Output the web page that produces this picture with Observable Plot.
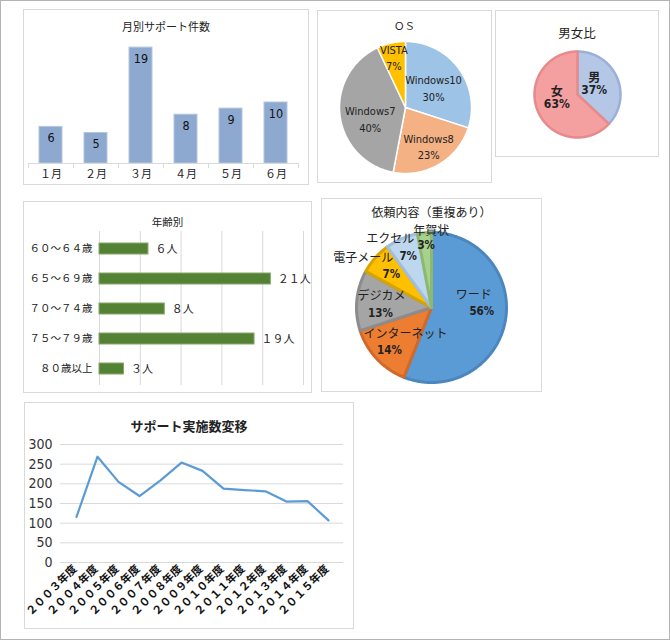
<!DOCTYPE html>
<html><head><meta charset="utf-8">
<script src="https://cdn.jsdelivr.net/npm/d3@7"></script>
<script src="https://cdn.jsdelivr.net/npm/@observablehq/plot@0.6"></script>
<style>
body{margin:0;background:#fff;}
#root{position:relative;width:670px;height:640px;box-sizing:border-box;border:1px solid #b3b3b3;overflow:hidden;background:#fff;font-family:"Noto Sans CJK JP",sans-serif;}
.panel{position:absolute;outline:1px solid #d9d9d9;outline-offset:-1px;background:#fff;}
.panel svg{position:absolute;left:0;top:0;}
.ttl{position:absolute;left:0;right:0;text-align:center;color:#222;white-space:nowrap;}
</style></head>
<body><div id="root"></div>
<script>
// ---- data ----
const months = ["１月","２月","３月","４月","５月","６月"];
const monthCounts = [6, 5, 19, 8, 9, 10];

const osNames = ["Windows10","Windows8","Windows7","VISTA"];
const osShares = [30, 23, 40, 7];

const genderNames = ["男","女"];
const genderShares = [37, 63];

const ageGroups = ["６０～６４歳","６５～６９歳","７０～７４歳","７５～７９歳","８０歳以上"];
const ageCounts = [6, 21, 8, 19, 3];

const requestNames = ["ワード","インターネット","デジカメ","電子メール","エクセル","年賀状"];
const requestShares = [56, 14, 13, 7, 7, 3];

const fiscalYears = ["２００３年度","２００４年度","２００５年度","２００６年度","２００７年度","２００８年度","２００９年度","２０１０年度","２０１１年度","２０１２年度","２０１３年度","２０１４年度","２０１５年度"];
const supportTotals = [116, 269, 205, 169, 209, 254, 233, 188, 184, 181, 155, 156, 107];

// ---- helpers ----
const JP = '"Noto Sans CJK JP", sans-serif';
const NARROW = '"Liberation Sans Narrow", "DejaVu Sans Condensed", "Noto Sans CJK JP", sans-serif';
const toFull = v => String(v).replace(/[0-9]/g, c => String.fromCharCode(c.charCodeAt(0) + 0xFEE0));
const root = document.getElementById("root");

function panel(x, y, w, h) {
  const d = document.createElement("div");
  d.className = "panel";
  Object.assign(d.style, {left: (x - 1) + "px", top: (y - 1) + "px", width: w + "px", height: h + "px"});
  root.appendChild(d);
  return d;
}
function title(p, text, cy, size, weight = "normal") {
  const t = document.createElement("div");
  t.className = "ttl";
  t.textContent = text;
  const lh = Math.round(size * 1.4);
  Object.assign(t.style, {top: (cy - lh / 2) + "px", fontSize: size + "px", lineHeight: lh + "px", fontWeight: weight});
  p.appendChild(t);
}

function pieChart(o) {
  const total = d3.sum(o.values);
  let acc = 0;
  const slices = o.names.map((name, i) => {
    const a0 = acc / total * 2 * Math.PI; acc += o.values[i];
    const a1 = acc / total * 2 * Math.PI;
    return {name, value: o.values[i], i, a0, a1, mid: (a0 + a1) / 2};
  });
  const outline = s => {
    const pts = [[0, 0]];
    const n = Math.max(4, Math.ceil((s.a1 - s.a0) / 0.01));
    for (let k = 0; k <= n; k++) { const a = s.a0 + (s.a1 - s.a0) * k / n; pts.push([Math.sin(a), Math.cos(a)]); }
    pts.push([0, 0]);
    return pts;
  };
  const marks = slices.map(s => Plot.line(outline(s), {
    x: d => d[0], y: d => d[1], fill: o.fills[s.i], stroke: o.strokes[s.i],
    strokeWidth: o.strokeWidth, strokeLinejoin: "round"
  }));
  const pct = s => Math.round(s.value / total * 100) + "%";
  const ax = s => o.rl * Math.sin(s.mid) + (o.nudges[s.i] || [0, 0])[0] / o.r;
  const ay = s => o.rl * Math.cos(s.mid) - (o.nudges[s.i] || [0, 0])[1] / o.r;
  if (o.split) {
    marks.push(Plot.text(slices, {x: ax, y: ay, text: pct, ...o.pctStyle}));
    marks.push(Plot.text(slices, {
      x: s => ax(s) + o.nameOffsets[s.i][0] / o.r,
      y: s => ay(s) - o.nameOffsets[s.i][1] / o.r,
      text: "name", ...o.nameStyle
    }));
  } else {
    marks.push(Plot.text(slices, {x: ax, y: ay, text: s => s.name + "\n" + pct(s), ...o.textStyle}));
  }
  return Plot.plot({
    width: o.width, height: o.height,
    marginLeft: o.cx - o.r, marginRight: o.width - o.cx - o.r,
    marginTop: o.cy - o.r, marginBottom: o.height - o.cy - o.r,
    x: {domain: [-1, 1], axis: null}, y: {domain: [-1, 1], axis: null},
    style: {background: "transparent", overflow: "visible"},
    marks
  });
}

// ---- 1. 月別サポート件数 ----
{
  const data = months.map((m, i) => ({month: m, count: monthCounts[i]}));
  const p = panel(23, 9, 286, 176);
  p.appendChild(Plot.plot({
    width: 286, height: 176, marginLeft: 5, marginRight: 11, marginTop: 32, marginBottom: 22,
    x: {domain: months, paddingInner: 0.49, paddingOuter: 0.245, tickSize: 0, tickPadding: 7, label: null},
    y: {domain: [0, 20], axis: null},
    style: {fontFamily: JP, fontSize: "11px", color: "#222", background: "transparent", overflow: "visible"},
    marks: [
      Plot.barY(data, {x: "month", y: "count", fill: "#8EA9CF", stroke: "#B5C6DF", strokeWidth: 1}),
      Plot.ruleY([0], {stroke: "#d9d9d9"}),
      Plot.ruleX(months, {x: d => d, dx: -22.5, y1: 0, y2: -0.85, stroke: "#d9d9d9"}),
      Plot.ruleX(months.slice(-1), {x: d => d, dx: 22.5, y1: 0, y2: -0.85, stroke: "#d9d9d9"}),
      Plot.text(data, {x: "month", y: "count", text: d => String(d.count), dy: 11, fontSize: 12.5, fontFamily: NARROW, fill: "#111"})
    ]
  }));
  title(p, "月別サポート件数", 17, 11);
}

// ---- 2. ＯＳ ----
{
  const p = panel(317, 10, 175, 173);
  p.appendChild(pieChart({
    names: osNames, values: osShares, width: 175, height: 173, cx: 88, cy: 97, r: 66,
    fills: ["#9DC3E6", "#F4B183", "#A5A5A5", "#FFC000"], strokes: ["#fff", "#fff", "#fff", "#fff"], strokeWidth: 1.5,
    rl: 0.6, nudges: [[-4, 3], [3, 4], [4, 6], [-3, -12]],
    textStyle: {fontFamily: NARROW, fontSize: 11, fill: "#222", lineHeight: 1.5}
  }));
  title(p, "ＯＳ", 15, 10.5);
}

// ---- 3. 男女比 ----
{
  const p = panel(495, 10, 164, 147);
  p.appendChild(pieChart({
    names: genderNames, values: genderShares, width: 164, height: 147, cx: 82, cy: 84, r: 43,
    fills: ["#B4C7E7", "#F4A0A1"], strokes: ["#9AB0D8", "#E8898B"], strokeWidth: 2.5,
    rl: 0.55, nudges: [[-5, -1], [1, -6]],
    textStyle: {fontFamily: NARROW, fontSize: 12, fontWeight: "bold", fill: "#222", lineHeight: 1.05}
  }));
  title(p, "男女比", 23, 12.5);
}

// ---- 4. 年齢別 ----
{
  const data = ageGroups.map((g, i) => ({group: g, count: ageCounts[i]}));
  const p = panel(23, 201, 289, 192);
  p.appendChild(Plot.plot({
    width: 289, height: 192, marginLeft: 76, marginRight: 9, marginTop: 30, marginBottom: 8,
    x: {domain: [0, 25], axis: null},
    y: {domain: ageGroups, paddingInner: 0.64, paddingOuter: 0.32, tickSize: 0, tickPadding: 7, label: null},
    style: {fontFamily: JP, fontSize: "10.5px", color: "#222", background: "transparent", overflow: "visible"},
    marks: [
      Plot.ruleX(d3.range(0, 26, 5), {stroke: "#d9d9d9"}),
      Plot.barX(data, {x: "count", y: "group", fill: "#548235", stroke: "#86A86A", strokeWidth: 1}),
      Plot.text(data, {x: "count", y: "group", text: d => toFull(d.count) + "人", textAnchor: "start", dx: 7, fontSize: 11, fill: "#222"})
    ]
  }));
  title(p, "年齢別", 20, 10.5);
}

// ---- 5. 依頼内容（重複あり） ----
{
  const p = panel(321, 198, 221, 194);
  p.appendChild(pieChart({
    names: requestNames, values: requestShares, width: 221, height: 194, cx: 110, cy: 109, r: 75,
    fills: ["#5B9BD5", "#ED7D31", "#A5A5A5", "#FFC000", "#BDD7EE", "#A9D18E"],
    strokes: ["#4B87BE", "#D0692A", "#8C8C8C", "#D9A300", "#A3BEDA", "#8DB872"], strokeWidth: 3,
    rl: 0.75, split: true,
    nudges: [[-5, -7], [-1, 4], [5, 11], [2, 4], [-1, 0], [0, -6]],
    nameOffsets: [[-8, -16], [16, -16], [1, -17], [-28, -16], [-18, -17], [5, -14]],
    pctStyle: {fontFamily: NARROW, fontSize: 11.5, fontWeight: "bold", fill: "#222"},
    nameStyle: {fontFamily: JP, fontSize: 12, fill: "#222"}
  }));
  title(p, "依頼内容（重複あり）", 13, 12);
}

// ---- 6. サポート実施数変移 ----
{
  const data = fiscalYears.map((y, i) => ({year: y, total: supportTotals[i]}));
  const yTicks = d3.range(0, 301, 50);
  const p = panel(24, 402, 330, 227);
  p.appendChild(Plot.plot({
    width: 330, height: 227, marginLeft: 36, marginRight: 11, marginTop: 42, marginBottom: 67,
    x: {type: "point", domain: fiscalYears, padding: 0.5, axis: null},
    y: {domain: [0, 300], ticks: yTicks, tickSize: 0, tickPadding: 8, label: null},
    style: {fontFamily: NARROW, fontSize: "14px", color: "#333", background: "transparent", overflow: "visible"},
    marks: [
      Plot.ruleY(yTicks, {stroke: "#d9d9d9"}),
      Plot.line(data, {x: "year", y: "total", stroke: "#5B9BD5", strokeWidth: 2.2}),
      Plot.text(data, {x: "year", frameAnchor: "bottom", text: "year", rotate: -45, textAnchor: "end",
        dx: 1, dy: 7, fontFamily: JP, fontWeight: "bold", fontSize: 11, fill: "#111"})
    ]
  }));
  title(p, "サポート実施数変移", 24, 13, "bold");
}
</script>
</body></html>
